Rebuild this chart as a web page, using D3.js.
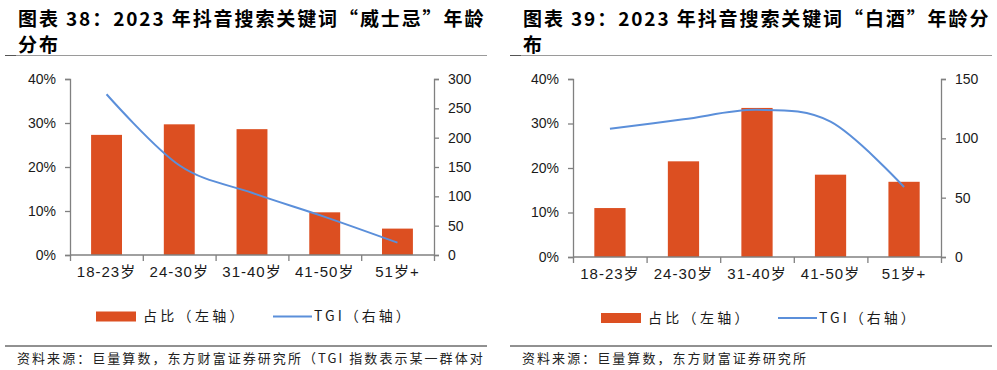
<!DOCTYPE html>
<html>
<head>
<meta charset="utf-8">
<script src="https://cdn.jsdelivr.net/npm/d3@7"></script>
<style>
  body { margin: 0; background: #fff; }
  svg { display: block; }
  text { font-family: "Liberation Sans", Arial, "Noto Sans CJK SC", sans-serif; fill: #1a1a1a; }
  .cjk { font-family: "Noto Sans CJK SC", sans-serif; }
  .axis path, .axis line { stroke: #808080; stroke-width: 1.3; }
</style>
</head>
<body>
<div id="chart"></div>
<script>
// 年龄段
var categories = ["18-23岁", "24-30岁", "31-40岁", "41-50岁", "51岁+"];
// 威士忌：占比(%) 与 TGI
var whiskyShare = [27.3, 29.7, 28.6, 9.7, 6.0];
var whiskyTgi = [274, 153, 106, 65, 21];
// 白酒：占比(%) 与 TGI
var baijiuShare = [11.0, 21.5, 33.5, 18.5, 16.9];
var baijiuTgi = [108, 116, 124, 114, 59];
// 刻度
var shareTicks = [0, 10, 20, 30, 40];
var whiskyTgiTicks = [0, 50, 100, 150, 200, 250, 300];
var baijiuTgiTicks = [0, 50, 100, 150];

var barColor = "#DC4F21", lineColor = "#5B8FDA";

var svg = d3.select("#chart").append("svg")
  .attr("width", 997).attr("height", 370);

function drawPanel(opts){
  var g = svg.append("g").attr("transform", "translate(" + opts.left + ",0)");

  // 标题
  var title = g.append("text").attr("class", "cjk")
    .attr("x", opts.titleX).attr("y", 26)
    .style("font-size", "19px").style("font-weight", "bold")
    .style("letter-spacing", "1.9px").style("fill", "#000");
  title.append("tspan").attr("x", opts.titleX).text(opts.title1);
  title.append("tspan").attr("x", opts.titleX).attr("dy", 26).text(opts.title2);

  g.append("line").attr("x1", opts.ruleX0).attr("x2", opts.ruleX1)
    .attr("y1", 55.5).attr("y2", 55.5).attr("stroke", "#9a9a9a").attr("stroke-width", 1);
  g.append("line").attr("x1", opts.ruleX0).attr("x2", opts.ruleX0 + 11)
    .attr("y1", 55.5).attr("y2", 55.5).attr("stroke", "#555").attr("stroke-width", 1);

  var x = d3.scaleBand().domain(opts.categories)
    .range([opts.x0, opts.x1]).paddingInner(0.575).paddingOuter(0.29);
  var xEdge = d3.scaleLinear().domain([0, opts.categories.length]).range([opts.x0, opts.x1]);
  var yL = d3.scaleLinear().domain([0, 40]).range([opts.yBot, opts.yTop]);
  var yR = d3.scaleLinear().domain([0, d3.max(opts.tgiTicks)]).range([opts.yBot, opts.yTop]);

  // 柱
  g.selectAll("rect.bar").data(opts.share).enter().append("rect")
    .attr("class", "bar")
    .attr("x", function(d, i){ return x(opts.categories[i]); })
    .attr("y", function(d){ return yL(d); })
    .attr("width", x.bandwidth())
    .attr("height", function(d){ return opts.yBot - yL(d); })
    .attr("fill", barColor);

  // 坐标轴
  g.append("g").attr("class", "axis").attr("transform", "translate(" + opts.x0 + ",0)")
    .call(d3.axisLeft(yL).tickValues(shareTicks).tickSize(5).tickSizeOuter(5).tickPadding(9)
      .tickFormat(function(d){ return d + "%"; }))
    .call(function(a){ a.selectAll("text").style("font-size", "14px"); });
  g.append("g").attr("class", "axis").attr("transform", "translate(" + opts.x1 + ",0)")
    .call(d3.axisRight(yR).tickValues(opts.tgiTicks).tickSize(5).tickSizeOuter(5).tickPadding(9))
    .call(function(a){ a.selectAll("text").style("font-size", "14px"); });

  var xa = g.append("g").attr("class", "axis").attr("transform", "translate(0," + opts.yBot + ")")
    .call(d3.axisBottom(xEdge).ticks(5).tickSize(6).tickSizeOuter(0).tickFormat(""));
  xa.select(".domain").attr("d", "M" + opts.x0 + ",0H" + opts.x1);

  g.selectAll("text.xlab").data(opts.categories).enter().append("text")
    .attr("class", "xlab")
    .attr("x", function(d){ return x(d) + x.bandwidth() / 2; })
    .attr("y", opts.yBot + 22)
    .attr("text-anchor", "middle")
    .style("font-size", "15px").style("letter-spacing", "1px")
    .text(function(d){ return d; });

  // TGI 曲线
  var line = d3.line()
    .x(function(d, i){ return x(opts.categories[i]) + x.bandwidth() / 2; })
    .y(function(d){ return yR(d); })
    .curve(d3.curveCardinal.tension(0));
  g.append("path").datum(opts.tgi)
    .attr("d", line).attr("fill", "none")
    .attr("stroke", lineColor).attr("stroke-width", 2);

  // 图例
  var ly = opts.legendY;
  g.append("rect").attr("x", opts.legendX).attr("y", ly - 5).attr("width", 40).attr("height", 10)
    .attr("fill", barColor);
  g.append("text").attr("class", "cjk").attr("x", opts.legendX + 47).attr("y", ly).attr("dy", "0.35em")
    .style("font-size", "14px").style("letter-spacing", "3.3px").text("占比（左轴）");
  g.append("line").attr("x1", opts.legendX + 177).attr("x2", opts.legendX + 216)
    .attr("y1", ly).attr("y2", ly).attr("stroke", lineColor).attr("stroke-width", 2);
  g.append("text").attr("class", "cjk").attr("x", opts.legendX + 218).attr("y", ly).attr("dy", "0.35em")
    .style("font-size", "14px").style("letter-spacing", "3px").text("TGI（右轴）");

  // 来源
  g.append("line").attr("x1", opts.ruleX0).attr("x2", opts.ruleX1)
    .attr("y1", 346).attr("y2", 346).attr("stroke", "#222").attr("stroke-width", 1);
  g.append("text").attr("class", "cjk").attr("x", opts.titleX - 1).attr("y", 358).attr("dy", "0.35em")
    .style("font-size", "13px").style("letter-spacing", "2.05px").style("fill", "#222")
    .text(opts.source);
}

drawPanel({
  left: 0, titleX: 18, ruleX0: 5, ruleX1: 487,
  title1: "图表 38：2023 年抖音搜索关键词“威士忌”年龄", title2: "分布",
  categories: categories, share: whiskyShare, tgi: whiskyTgi, tgiTicks: whiskyTgiTicks,
  x0: 70, x1: 434, yTop: 79, yBot: 255,
  legendX: 96, legendY: 316.5,
  source: "资料来源：巨量算数，东方财富证券研究所（TGI 指数表示某一群体对"
});
drawPanel({
  left: 500, titleX: 23, ruleX0: 10, ruleX1: 492,
  title1: "图表 39：2023 年抖音搜索关键词“白酒”年龄分", title2: "布",
  categories: categories, share: baijiuShare, tgi: baijiuTgi, tgiTicks: baijiuTgiTicks,
  x0: 73, x1: 441, yTop: 79, yBot: 257,
  legendX: 101, legendY: 318,
  source: "资料来源：巨量算数，东方财富证券研究所"
});
</script>
</body>
</html>
